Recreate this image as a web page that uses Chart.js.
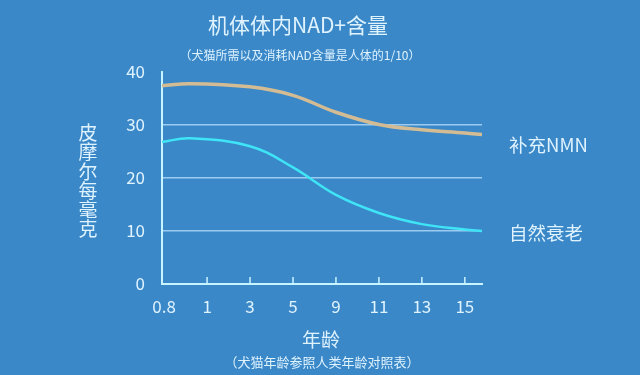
<!DOCTYPE html>
<html>
<head>
<meta charset="utf-8">
<script src="https://cdn.jsdelivr.net/npm/chart.js@4/dist/chart.umd.min.js"></script>
<style>
  html, body { margin: 0; padding: 0; background: #3a88c8; }
  #wrap { width: 640px; height: 375px; }
</style>
</head>
<body>
<div id="wrap"><canvas id="nadChart" width="640" height="375"></canvas></div>
<script>
// x tick labels (ages) and where the curves were sampled (tick index units)
const ageLabels = ["0.8", "1", "3", "5", "9", "11", "13", "15"];
const samplePos = [-0.05, 0.6, 2, 3, 4, 5, 6, 7, 7.4];
const nmnValues = [37.4, 37.8, 37.2, 35.6, 32.4, 30.1, 29.1, 28.5, 28.2];
const agingValues = [26.8, 27.5, 26.0, 22.0, 16.8, 13.4, 11.3, 10.3, 10.0];

const textColor = "#dff3ff";
const cjk = "'Noto Sans CJK SC', 'Noto Sans', sans-serif";

const toPoints = vals => vals.map((v, i) => ({ x: samplePos[i], y: v }));

// titles, stacked y title, series names and the small inward x ticks
const textPlugin = {
  id: "texts",
  afterDraw(chart) {
    const c = chart.ctx;
    const xs = chart.scales.x;
    const yb = chart.chartArea.bottom;
    c.save();
    c.fillStyle = textColor;
    c.textAlign = "center";
    c.textBaseline = "middle";
    c.font = "21px " + cjk;
    c.fillText("机体体内NAD+含量", 298, 25);
    c.font = "12px " + cjk;
    c.fillText("（犬猫所需以及消耗NAD含量是人体的1/10）", 300, 55);
    c.font = "19px " + cjk;
    c.fillText("年龄", 321, 340);
    c.font = "13px " + cjk;
    c.fillText("（犬猫年龄参照人类年龄对照表）", 322, 362);

    c.font = "19px " + cjk;
    const yTitle = "皮摩尔每毫克";
    for (let i = 0; i < yTitle.length; i++) {
      c.fillText(yTitle[i], 88, 133 + i * 19.2);
    }

    c.textAlign = "left";
    c.font = "18.5px " + cjk;
    c.fillText("补充NMN", 509, 145);
    c.fillText("自然衰老", 509, 233);

    c.strokeStyle = "#c8f4ff";
    c.lineWidth = 1.5;
    for (let i = 1; i < ageLabels.length; i++) {
      const px = xs.getPixelForValue(i);
      c.beginPath();
      c.moveTo(px, yb);
      c.lineTo(px, yb - 7);
      c.stroke();
    }
    c.restore();
  }
};

const chart = new Chart(document.getElementById("nadChart"), {
  type: "line",
  data: {
    datasets: [
      {
        label: "补充NMN",
        data: toPoints(nmnValues),
        borderColor: "#d3bc94",
        borderWidth: 3.5,
        pointRadius: 0,
        tension: 0.4
      },
      {
        label: "自然衰老",
        data: toPoints(agingValues),
        borderColor: "#3fe4f6",
        borderWidth: 2.5,
        pointRadius: 0,
        tension: 0.4
      }
    ]
  },
  options: {
    responsive: false,
    animation: false,
    layout: { padding: { left: 0, right: 158, top: 72, bottom: 0 } },
    plugins: {
      legend: { display: false },
      tooltip: { enabled: false }
    },
    scales: {
      x: {
        type: "linear",
        min: -0.05,
        max: 7.4,
        afterBuildTicks: scale => {
          scale.ticks = ageLabels.map((l, i) => ({ value: i }));
        },
        afterFit: scale => { scale.height = 91; },
        ticks: {
          color: textColor,
          font: { family: cjk, size: 17 },
          padding: 12,
          maxRotation: 0,
          callback: (v, i) => ageLabels[i]
        },
        grid: { display: false, drawTicks: false },
        border: { color: "#c8f4ff", width: 2 }
      },
      y: {
        min: 0,
        max: 40,
        afterFit: scale => { scale.width = 162; },
        ticks: {
          stepSize: 10,
          color: textColor,
          font: { family: cjk, size: 17 },
          padding: 17
        },
        grid: {
          drawTicks: false,
          color: ctx => (ctx.tick.value === 0 || ctx.tick.value === 40) ? "rgba(0,0,0,0)" : "rgba(190,225,255,0.75)",
          lineWidth: 1.5
        },
        border: { color: "#c8f4ff", width: 2 }
      }
    }
  },
  plugins: [textPlugin]
});
</script>
</body>
</html>
